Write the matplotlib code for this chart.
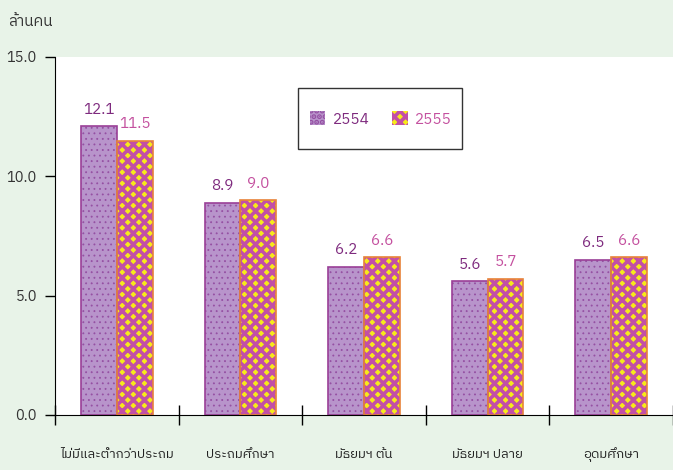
import numpy as np
import matplotlib.pyplot as plt
from matplotlib import font_manager
from matplotlib.patches import Rectangle

# ===== данные =====
categories = ['ไม่มีและต่ำกว่าประถม', 'ประถมศึกษา', 'มัธยมฯ ต้น', 'มัธยมฯ ปลาย', 'อุดมศึกษา']
v2554 = [12.1, 8.9, 6.2, 5.6, 6.5]
v2555 = [11.5, 9.0, 6.6, 5.7, 6.6]
series_names = ['2554', '2555']
y_ticks = [0.0, 5.0, 10.0, 15.0]

# шрифт с тайскими глифами, если есть
names = sorted(set(f.name for f in font_manager.fontManager.ttflist))
thai = [n for n in names if 'Thai' in n] or [n for n in names if any(
    k in n for k in ('Loma', 'Garuda', 'Tlwg', 'Sarabun', 'Kinnari', 'Norasi'))]
plt.rcParams['font.family'] = thai[:1] + ['DejaVu Sans']
plt.rcParams['hatch.linewidth'] = 2.6

bg = '#E8F3E8'
c1_face, c1_edge, c1_hatch, c1_text = '#B894CB', '#9A3F97', '#9550A3', '#7E2A7E'
c2_face, c2_edge, c2_hatch, c2_text = '#F7EA1A', '#E8833A', '#C24FA6', '#C4509F'

fig = plt.figure(figsize=(6.73, 4.70), dpi=100, facecolor=bg)
ax = fig.add_axes([55 / 673, 55 / 470, 1 - 55 / 673, 358 / 470])

x = np.arange(len(categories))
w = 0.29
# заливка со штриховкой (цвет штриховки = цвет кромки), потом отдельный контур
h1 = ax.bar(x - w / 2, v2554, w, color=c1_face, edgecolor=c1_hatch, linewidth=0, hatch='...',
            label=series_names[0])
for r in h1:
    if hasattr(r, 'set_hatch_linewidth'):
        r.set_hatch_linewidth(0.6)
h2 = ax.bar(x + w / 2, v2555, w, color=c2_face, edgecolor=c2_hatch, linewidth=0, hatch='xxx',
            label=series_names[1])
ax.bar(x - w / 2, v2554, w, fill=False, edgecolor=c1_edge, linewidth=1.2)
ax.bar(x + w / 2, v2555, w, fill=False, edgecolor=c2_edge, linewidth=1.2)

for xi, v in zip(x, v2554):
    ax.text(xi - w / 2, v + 0.4, f'{v:.1f}', ha='center', va='bottom', fontsize=11, color=c1_text)
for xi, v in zip(x, v2555):
    ax.text(xi + w / 2, v + 0.4, f'{v:.1f}', ha='center', va='bottom', fontsize=11, color=c2_text)

ax.set_ylim(0, 15)
ax.set_xlim(-0.5, -0.5 + (673 - 55) / 124.4)
ax.set_yticks(y_ticks)
ax.set_yticklabels([f'{t:.1f}' for t in y_ticks], fontsize=10.5, color='#333333')
ax.tick_params(axis='y', direction='out', length=7, width=1, pad=6)

ax.set_xticks(np.arange(len(categories) + 1) - 0.5)
ax.set_xticklabels([])
ax.tick_params(axis='x', which='major', direction='inout', length=14, width=1)
ax.set_xticks(x, minor=True)
ax.set_xticklabels(categories, minor=True, fontsize=9.5, color='#222222')
ax.tick_params(axis='x', which='minor', length=0, pad=31)
for lbl in ax.get_xticklabels(minor=True):
    lbl.set_va('baseline')

ax.spines['top'].set_visible(False)
ax.spines['right'].set_visible(False)

fig.text(8 / 673, 1 - 22 / 470, 'ล้านคน', fontsize=11, va='center', ha='left', color='#333333')

# рамка легенды
fig.patches.append(Rectangle((298 / 673, 1 - 149 / 470), 164 / 673, 61 / 470, transform=fig.transFigure,
                             fill=False, edgecolor='#333333', linewidth=1.0))
leg = ax.legend(loc='center', bbox_to_anchor=((381 - 55) / 618, 1 - (119 - 57) / 358),
                ncol=2, frameon=False, fontsize=11,
                handlelength=1.0, handleheight=1.0, columnspacing=1.5, handletextpad=0.5)
for t, c in zip(leg.get_texts(), [c1_text, c2_text]):
    t.set_color(c)

fig.savefig('out.png', dpi=100, facecolor=bg)
